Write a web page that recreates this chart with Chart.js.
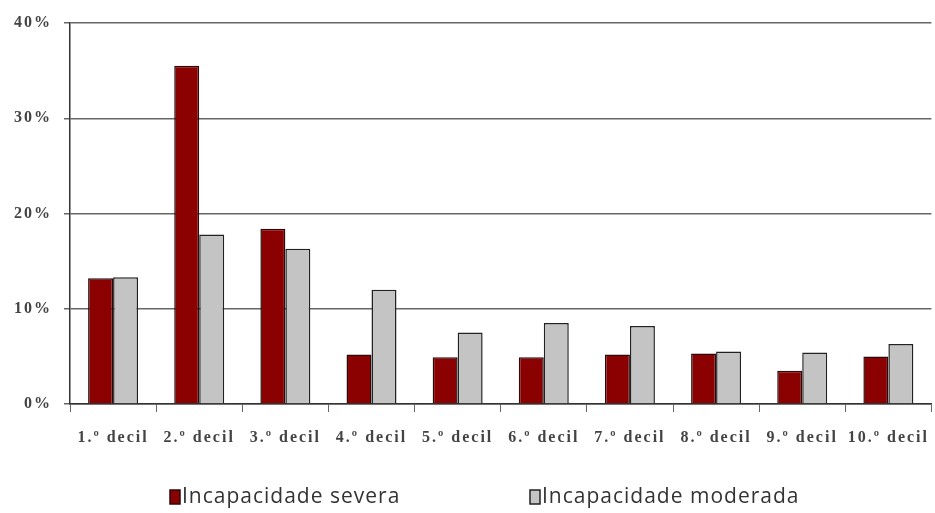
<!DOCTYPE html>
<html>
<head>
<meta charset="utf-8">
<script src="https://cdn.jsdelivr.net/npm/chart.js@4"></script>
<style>
  html, body { margin: 0; padding: 0; background: #fff; }
  #wrap { width: 935px; height: 513px; position: relative; }
</style>
</head>
<body>
<div id="wrap"><canvas id="c" width="935" height="513"></canvas></div>
<script>
// Income deciles
const categories = ['1.º decil', '2.º decil', '3.º decil', '4.º decil', '5.º decil',
                    '6.º decil', '7.º decil', '8.º decil', '9.º decil', '10.º decil'];
// Share of people with each disability level (%)
const severa   = [13.2, 35.5, 18.4, 5.2, 4.9, 4.9, 5.2, 5.3, 3.5, 5.0];
const moderada = [13.3, 17.8, 16.3, 12.0, 7.5, 8.5, 8.2, 5.5, 5.4, 6.3];
const seriesNames = ['Incapacidade severa', 'Incapacidade moderada'];
const yTicks = [0, 10, 20, 30, 40];

const canvas = document.getElementById('c');

// Wide-spaced lettering for the axis labels
const spacedText = {
  id: 'spacedText',
  beforeDraw(chart) { chart.ctx.letterSpacing = '2px'; },
  afterDraw(chart) { chart.ctx.letterSpacing = '0px'; }
};

// Legend drawn below the axis, with two widely spaced entries
const bottomLegend = {
  id: 'bottomLegend',
  afterDraw(chart) {
    const ctx = chart.ctx;
    const starts = [170, 530];
    const y = 497;
    ctx.save();
    ctx.letterSpacing = '1px';
    ctx.font = '21px "Open Sans", sans-serif';
    ctx.textBaseline = 'middle';
    ctx.textAlign = 'left';
    chart.data.datasets.forEach((ds, i) => {
      const x = starts[i];
      ctx.fillStyle = ds.backgroundColor;
      ctx.fillRect(x, y - 7, 10, 14);
      ctx.strokeStyle = ds.borderColor;
      ctx.lineWidth = 1.5;
      ctx.strokeRect(x, y - 7, 10, 14);
      ctx.fillStyle = '#333';
      ctx.fillText(ds.label, x + 12, y);
    });
    ctx.restore();
  }
};

new Chart(canvas, {
  type: 'bar',
  data: {
    labels: categories,
    datasets: [
      { label: seriesNames[0], data: severa, backgroundColor: '#8b0000',
        borderColor: '#2a0a0a', borderWidth: 1.5, borderSkipped: 'bottom' },
      { label: seriesNames[1], data: moderada, backgroundColor: '#c4c4c4',
        borderColor: '#222', borderWidth: 1.5, borderSkipped: 'bottom' }
    ]
  },
  plugins: [spacedText, bottomLegend],
  options: {
    responsive: false,
    animation: false,
    datasets: { bar: { categoryPercentage: 0.58, barPercentage: 1.0 } },
    layout: { padding: { top: 23, right: 0, left: 0, bottom: 47 } },
    plugins: {
      tooltip: { enabled: false },
      legend: { display: false }
    },
    scales: {
      x: {
        grid: { display: true, drawOnChartArea: false, drawTicks: true, tickLength: 8,
                color: '#666', offset: true },
        border: { display: true, color: '#333', width: 1.5 },
        ticks: { font: { family: '"Liberation Serif", serif', size: 16, weight: 'bold' }, color: '#444',
                 padding: 16, maxRotation: 0, autoSkip: false },
        afterFit: (s) => { s.height = 62; }
      },
      y: {
        min: 0, max: 40,
        afterBuildTicks: (s) => { s.ticks = yTicks.map(v => ({ value: v })); },
        grid: { color: '#666', lineWidth: 1.5, drawTicks: true, tickLength: 6 },
        border: { display: true, color: '#333', width: 1.5 },
        ticks: { font: { family: '"Liberation Serif", serif', size: 16, weight: 'bold' },
                 color: '#444', padding: 12, callback: (v) => v + '%' },
        afterFit: (s) => { s.width = 70; }
      }
    }
  }
});
</script>
</body>
</html>
